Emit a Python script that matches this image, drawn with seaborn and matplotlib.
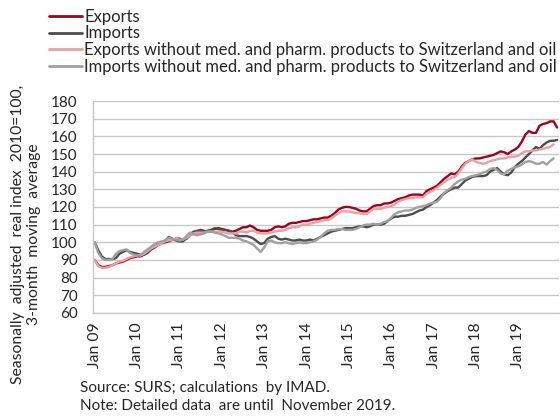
import numpy as np
import pandas as pd
import matplotlib
matplotlib.use("Agg")
import matplotlib.pyplot as plt
import seaborn as sns

# monthly values, Jan 2009 - Dec 2019 (the "without" series end Nov 2019)
exports = [
    90, 87, 86, 86, 86.5, 87, 88, 88.5, 89, 90, 91, 91.5,
    92, 92, 93, 94.5, 96, 97, 98.5, 99.5, 100, 100.5, 101.5, 102,
    102, 101, 102, 104, 105, 105.5, 106, 106, 106.5, 107, 107.5, 108,
    107.5, 107, 106.5, 106, 106.5, 107.5, 108.5, 108.5, 109.5, 108.5, 107, 106.5,
    106.5, 106.5, 107, 108.5, 109, 108.5, 109, 110.5, 111, 111, 111.5, 112,
    112, 112.5, 113, 113, 113.5, 114, 114, 115, 116.5, 118.5, 119.5, 120,
    120, 119.5, 119, 118, 117.5, 117.5, 119, 120.5, 121, 121, 122, 122,
    122.5, 123.5, 124.5, 125, 125.5, 126.5, 127, 127, 127, 126.5, 129, 130,
    131, 132, 134, 136, 137.5, 139, 138.5, 140, 143, 145, 146, 147,
    147.5, 147.5, 148, 148.5, 149, 149.5, 150.5, 151.5, 151, 150, 151.5, 152.5,
    154, 157, 161, 163, 162, 162, 166, 167, 167.5, 168.5, 168.5, 165,
]
imports = [
    100, 95.5, 92, 90.5, 90.5, 90.5, 91, 93.5, 94.5, 95.5, 94.5, 94,
    93.5, 93, 93, 94, 96, 97.5, 99, 100, 101, 103, 102, 101,
    100.5, 100.5, 102.5, 104.5, 106, 106.5, 107, 106.5, 106, 107, 108, 107.5,
    107, 107, 106.5, 105.5, 104, 103.5, 103.5, 103.5, 103, 102, 100.5, 99,
    99.5, 102, 103, 103.5, 102, 101.5, 102, 101.5, 101, 101, 101.5, 101,
    101, 101.5, 101, 102, 103, 104, 105, 106, 106.5, 107, 107.5, 108,
    108, 108, 108.5, 109, 109, 108.5, 109, 110, 110, 110, 110.5, 112,
    113.5, 114.5, 114.5, 115, 115, 115.5, 116, 117, 118, 118.5, 120, 121,
    122.5, 124, 126, 127.5, 129, 130, 131, 131, 133, 135, 136, 137,
    137.5, 137.5, 137.5, 138, 140, 141, 142, 140, 138.5, 138, 139.5, 142.5,
    144.5, 146, 148, 150, 152, 154, 153, 155, 156.5, 157.5, 157.5, 158,
]
exports_wo = [
    90, 86.5, 85.5, 85.5, 86, 87, 88, 89, 89.5, 90.5, 91.5, 92,
    92.5, 92.5, 93.5, 95, 96.5, 97.5, 98.5, 99.5, 100.5, 101, 101.5, 102,
    101.5, 101.5, 102.5, 104, 105, 105.5, 105.5, 105.5, 106, 106, 106, 106,
    106, 105.5, 105, 105, 105, 106, 106, 105.5, 106.5, 106.5, 105.5, 105,
    105, 105, 105.5, 106, 106.5, 106.5, 107, 108, 108.5, 108.5, 109, 110,
    110, 110.5, 111, 111.5, 112, 112.5, 112.5, 113.5, 115, 116.5, 117.5, 117.5,
    117.5, 117, 116.5, 116.5, 116, 116, 117.5, 119, 119, 119, 119.5, 120,
    120.5, 121.5, 123, 124, 124.5, 125, 125, 125.5, 125.5, 125.5, 127.5, 128.5,
    129.5, 131, 132.5, 134, 135.5, 136.5, 137, 139, 142, 144.5, 146, 147,
    145.5, 145, 144.5, 145, 146, 146.5, 147, 147.5, 147.5, 148, 148.5, 148.5,
    149, 150.5, 151.5, 151.5, 152, 152, 152.5, 153, 153.5, 154, 155.5,
]
imports_wo = [
    100, 94, 91, 90, 90, 90.5, 93.5, 95, 95.5, 96, 94, 93,
    92.5, 93, 94.5, 96, 97.5, 99, 100, 100.5, 101, 102.5, 102, 101.5,
    101, 101.5, 103.5, 105.5, 104.5, 104, 104.5, 105, 106, 106, 105.5, 105,
    104.5, 103.5, 102.5, 102.5, 102.5, 102, 101, 100.5, 99.5, 98.5, 96.5, 94.5,
    97, 100.5, 101, 100, 99.5, 99.5, 100, 99.5, 99, 99.5, 100, 99.5,
    99.5, 100, 100.5, 101.5, 103, 105, 106.5, 107, 107, 107.5, 107.5, 107,
    107, 107, 107.5, 108.5, 109.5, 110, 110, 110.5, 110, 110.5, 111.5, 112,
    114, 116, 117, 117.5, 118, 118, 118.5, 119.5, 120, 120.5, 121, 122,
    122.5, 123, 125, 128, 129.5, 131, 133, 134.5, 135.5, 136, 137, 137.5,
    138, 138.5, 139.5, 140, 141.5, 142, 141, 139, 138.5, 140.5, 141.5, 142.5,
    143, 144, 145.5, 146, 145.5, 144.5, 144.5, 145.5, 144, 146, 147.5,
]

labels = [
    "Exports",
    "Imports",
    "Exports without med. and pharm. products to Switzerland and oil",
    "Imports without med. and pharm. products to Switzerland and oil",
]
colors = ["#A3001E", "#4D4D4D", "#E8A0A0", "#A0A0A0"]
tick_labels = ["Jan %02d" % y for y in range(9, 20)]
tick_months = np.arange(0, 121, 12)

# month number from Jan 2009
frames = []
for name, vals in zip(labels, [exports, imports, exports_wo, imports_wo]):
    frames.append(pd.DataFrame({"month": np.arange(len(vals)), "value": vals, "series": name}))
df = pd.concat(frames, ignore_index=True)

sns.set_style("white")
plt.rcParams["font.family"] = ["Lato", "DejaVu Sans"]

fig = plt.figure(figsize=(5.6, 4.16), dpi=100)
ax = fig.add_axes([0.166, 0.248, 0.832, 0.509])

sns.lineplot(data=df, x="month", y="value", hue="series", hue_order=labels,
             palette=colors, linewidth=1.7, ax=ax, legend=False)

ax.set_ylim(60, 180)
ax.set_yticks(np.arange(60, 181, 10))
ax.tick_params(axis="y", labelsize=11, length=0, pad=11)
ax.set_xlim(-0.5, 131.5)
ax.set_xticks(tick_months, labels=[""] * len(tick_months))
ax.tick_params(axis="x", length=0)
# vertical year labels under each January
for m, lab in zip(tick_months, tick_labels):
    ax.annotate(lab, xy=(m, 0), xycoords=("data", "axes fraction"),
                xytext=(0, -7), textcoords="offset points",
                rotation=90, ha="center", va="top", fontsize=11.3)
ax.set_xlabel("")
ax.set_ylabel("")
ax.yaxis.grid(True, color="#C8C8C8", linewidth=1)
ax.set_axisbelow(True)
for s in ["top", "right"]:
    ax.spines[s].set_visible(False)
for s in ["left", "bottom"]:
    ax.spines[s].set_color("#C8C8C8")
    ax.spines[s].set_linewidth(1)

handles = [plt.Line2D([], [], color=c, linewidth=2) for c in colors]
fig.legend(handles, labels, loc="upper left", bbox_to_anchor=(0.075, 0.995),
           frameon=False, fontsize=12, handlelength=2.0, handletextpad=0.15,
           labelspacing=0.04, borderaxespad=0)

fig.text(0.046, 0.437, "Seasonally  adjusted  real index  2010=100,\n3-month  moving  average",
         rotation=90, ha="center", va="center", multialignment="center", fontsize=11.3)
fig.text(0.143, 0.067, "Source: SURS; calculations  by IMAD.", fontsize=11, va="center")
fig.text(0.143, 0.024, "Note: Detailed data  are until  November 2019.", fontsize=11, va="center")

fig.savefig("out.png", dpi=100)
